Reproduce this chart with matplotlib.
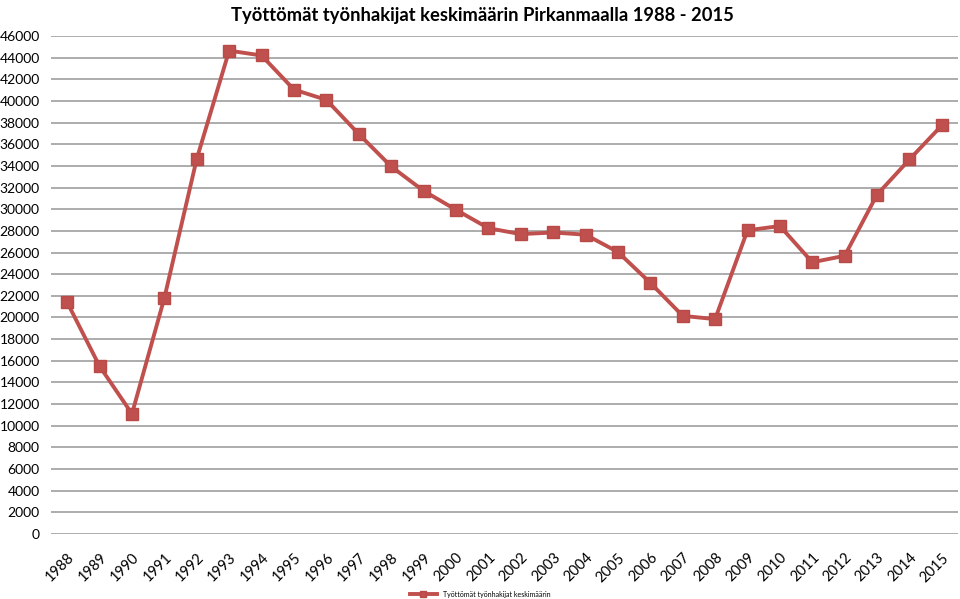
import matplotlib.pyplot as plt

plt.rcParams['font.family'] = ['Lato', 'DejaVu Sans']

years = [str(y) for y in range(1988, 2016)]
unemployed = [21400, 15500, 11100, 21800, 34650, 44650, 44200, 41050, 40100,
              36950, 33950, 31700, 29950, 28250, 27700, 27850, 27650, 26050,
              23200, 20150, 19850, 28050, 28450, 25100, 25700, 31350, 34600,
              37750]
yticks = list(range(0, 46001, 2000))

color = '#C0504D'

fig = plt.figure(figsize=(9.6, 5.99), dpi=100)
ax = fig.add_axes([0.0531, 0.1085, 0.9449, 0.8314])

x = range(len(years))
ax.plot(x, unemployed, color=color, lw=2.8, marker='s', markersize=8.5,
        markerfacecolor=color, markeredgecolor='#B84A47',
        label='Työttömät työnhakijat keskimäärin', zorder=3)

ax.set_xlim(-0.5, len(years) - 0.5)
ax.set_ylim(0, 46000)
ax.set_yticks(yticks)
ax.set_yticklabels([str(v) for v in yticks], fontsize=10)
ax.set_xticks(list(x))
ax.set_xticklabels(years, rotation=45, ha='right', rotation_mode='anchor',
                   fontsize=10.5)
ax.tick_params(axis='y', length=0, pad=8)
ax.tick_params(axis='x', length=0, pad=12)
ax.grid(axis='y', color='#A6A6A6', lw=1.3)
ax.set_axisbelow(True)
for s in ax.spines.values():
    s.set_visible(False)

fig.text(0.503, 0.988, 'Työttömät työnhakijat keskimäärin Pirkanmaalla 1988 - 2015',
         ha='center', va='top', fontsize=13.2, fontweight='bold')

fig.legend(loc='lower center', bbox_to_anchor=(0.5, -0.008), frameon=False,
           fontsize=5, handlelength=4, markerscale=0.5)

fig.savefig('out.png', dpi=100)
